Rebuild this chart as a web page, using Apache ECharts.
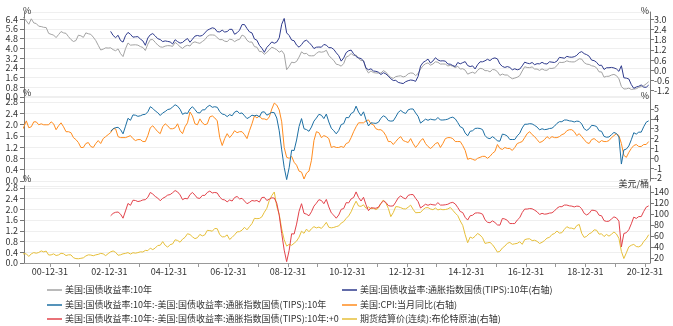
<!DOCTYPE html>
<html><head><meta charset="utf-8">
<script src="https://cdn.jsdelivr.net/npm/echarts@6/dist/echarts.min.js"></script>
<style>html,body{margin:0;padding:0;background:#fff}#c{width:673px;height:326px}</style>
</head><body><div id="c"></div>
<script>
// monthly data, first month 2000-01
const startYear = 2000;
const tenY = [
6.66,6.52,6.26,5.99,6.44,6.10,6.05,5.83,5.80,5.74,5.72,5.24,
5.16,5.10,4.89,5.14,5.39,5.28,5.24,4.97,4.73,4.57,4.65,5.09,
5.04,4.91,5.28,5.21,5.16,4.93,4.65,4.26,3.87,3.94,4.05,4.03,
4.05,3.90,3.81,3.96,3.57,3.33,3.98,4.45,4.27,4.29,4.30,4.27,
4.15,4.08,3.83,4.35,4.72,4.73,4.50,4.28,4.13,4.10,4.19,4.23,
4.22,4.17,4.50,4.34,4.14,4.00,4.18,4.26,4.20,4.46,4.54,4.47,
4.42,4.57,4.72,4.99,5.11,5.11,5.09,4.88,4.72,4.73,4.60,4.56,
4.76,4.72,4.56,4.69,4.75,5.10,5.00,4.67,4.52,4.53,4.15,4.10,
3.74,3.74,3.51,3.68,3.88,4.10,4.01,3.89,3.69,3.81,3.53,2.25,
2.52,2.87,2.82,2.93,3.29,3.72,3.56,3.59,3.40,3.39,3.40,3.59,
3.73,3.69,3.73,3.85,3.42,3.20,3.01,2.70,2.65,2.54,2.76,3.29,
3.39,3.58,3.41,3.46,3.17,3.00,3.00,2.30,1.98,2.15,2.01,1.98,
1.97,1.97,2.17,2.05,1.80,1.62,1.53,1.68,1.72,1.75,1.65,1.72,
1.91,1.98,1.96,1.76,1.93,2.30,2.58,2.74,2.81,2.62,2.72,2.90,
2.86,2.71,2.72,2.71,2.56,2.60,2.54,2.42,2.53,2.30,2.33,2.21,
1.88,1.98,2.04,1.94,2.20,2.36,2.32,2.17,2.17,2.07,2.26,2.24,
2.09,1.78,1.89,1.81,1.81,1.64,1.50,1.56,1.63,1.76,2.14,2.49,
2.43,2.42,2.48,2.30,2.30,2.19,2.32,2.21,2.20,2.36,2.35,2.40,
2.58,2.86,2.84,2.87,2.98,2.91,2.89,2.89,3.00,3.15,3.12,2.83,
2.71,2.68,2.57,2.53,2.40,2.07,2.06,1.63,1.70,1.71,1.81,1.86,
1.76,1.50,0.87,0.66,0.67,0.73,0.62,0.65,0.68,0.79,0.87,0.93,
1.08,1.26];
// TIPS and breakeven start 2003-01
const tipsStartYear = 2003;
const tips = [
2.29,2.05,1.92,2.06,1.75,1.66,2.04,2.23,2.12,1.95,1.97,1.98,
1.84,1.73,1.47,1.90,2.09,2.16,2.02,1.86,1.81,1.69,1.73,1.70,
1.67,1.55,1.80,1.69,1.60,1.64,1.77,1.87,1.65,1.83,2.01,2.05,
2.01,2.05,2.20,2.36,2.43,2.50,2.46,2.27,2.26,2.36,2.25,2.28,
2.41,2.41,2.12,2.21,2.36,2.69,2.69,2.46,2.26,2.20,1.84,1.77,
1.47,1.30,1.06,1.35,1.50,1.67,1.59,1.66,1.91,2.71,3.05,2.20,
2.05,1.78,1.74,1.48,1.36,1.51,1.71,1.77,1.64,1.48,1.28,1.36,
1.37,1.36,1.52,1.48,1.33,1.33,1.23,1.03,0.86,0.54,0.73,1.04,
1.15,1.19,0.97,0.81,0.73,0.69,0.55,0.13,0.03,0.09,-0.04,-0.06,
-0.11,-0.25,-0.14,-0.21,-0.34,-0.50,-0.60,-0.59,-0.71,-0.75,-0.78,-0.67,
-0.61,-0.57,-0.59,-0.65,-0.36,0.25,0.46,0.55,0.66,0.43,0.55,0.74,
0.61,0.55,0.56,0.54,0.37,0.36,0.28,0.22,0.46,0.38,0.45,0.51,
0.28,0.22,0.26,0.08,0.33,0.50,0.50,0.56,0.65,0.57,0.69,0.73,
0.67,0.37,0.23,0.17,0.22,0.17,0.03,0.09,0.03,0.07,0.26,0.48,
0.42,0.39,0.46,0.33,0.39,0.38,0.47,0.39,0.37,0.50,0.48,0.46,
0.54,0.76,0.74,0.71,0.82,0.78,0.77,0.80,0.88,1.04,1.10,0.98,
0.92,0.83,0.60,0.57,0.47,0.29,0.30,0.05,0.15,0.15,0.17,0.14,
0.08,-0.06,0.27,-0.44,-0.46,-0.51,-0.84,-1.06,-0.98,-0.94,-0.86,-0.99,
-1.00,-0.87];
const breakeven = [
1.76,1.85,1.89,1.90,1.82,1.67,1.94,2.22,2.15,2.34,2.33,2.29,
2.31,2.35,2.36,2.45,2.63,2.57,2.48,2.42,2.32,2.41,2.46,2.53,
2.55,2.62,2.70,2.65,2.54,2.36,2.41,2.39,2.55,2.63,2.53,2.42,
2.41,2.52,2.52,2.63,2.68,2.61,2.63,2.61,2.46,2.37,2.35,2.28,
2.35,2.31,2.44,2.48,2.39,2.41,2.31,2.21,2.26,2.33,2.31,2.33,
2.27,2.44,2.45,2.33,2.38,2.43,2.42,2.23,1.78,1.10,0.48,0.05,
0.47,1.09,1.08,1.45,1.93,2.21,1.85,1.82,1.76,1.91,2.12,2.23,
2.36,2.33,2.21,2.37,2.09,1.87,1.78,1.67,1.79,2.00,2.03,2.25,
2.24,2.39,2.44,2.65,2.44,2.31,2.45,2.17,1.95,2.06,2.05,2.04,
2.08,2.22,2.31,2.26,2.14,2.12,2.13,2.27,2.43,2.50,2.43,2.39,
2.52,2.55,2.55,2.41,2.29,2.05,2.12,2.19,2.15,2.19,2.17,2.16,
2.25,2.16,2.16,2.17,2.19,2.24,2.26,2.20,2.07,1.92,1.88,1.70,
1.60,1.76,1.78,1.86,1.87,1.86,1.82,1.61,1.52,1.50,1.57,1.51,
1.42,1.41,1.66,1.64,1.59,1.47,1.47,1.47,1.60,1.69,1.88,2.01,
2.01,2.03,2.02,1.97,1.91,1.81,1.85,1.82,1.83,1.86,1.87,1.94,
2.04,2.10,2.10,2.16,2.16,2.13,2.12,2.09,2.12,2.11,2.02,1.85,
1.79,1.85,1.97,1.96,1.93,1.78,1.76,1.58,1.55,1.56,1.64,1.72,
1.68,1.56,0.60,1.10,1.13,1.24,1.46,1.71,1.66,1.73,1.73,1.92,
2.08,2.13];
const cpi = [
2.7,3.2,3.8,3.1,3.2,3.7,3.7,3.4,3.5,3.4,3.4,3.4,
3.7,3.5,2.9,3.3,3.6,3.2,2.7,2.7,2.6,2.1,1.9,1.6,
1.1,1.1,1.5,1.6,1.2,1.1,1.5,1.8,1.5,2.0,2.2,2.4,
2.6,3.0,3.0,2.2,2.1,2.1,2.1,2.2,2.3,2.0,1.8,1.9,
1.9,1.7,1.7,2.3,3.1,3.3,3.0,2.7,2.5,3.2,3.5,3.3,
3.0,3.0,3.1,3.5,2.8,2.5,3.2,3.6,4.7,4.3,3.5,3.4,
4.0,3.6,3.4,3.5,4.2,4.3,4.1,3.8,2.1,1.3,2.0,2.5,
2.1,2.4,2.8,2.6,2.7,2.7,2.4,2.0,2.8,3.5,4.3,4.1,
4.3,4.0,4.0,3.9,4.2,5.0,5.6,5.4,4.9,3.7,1.1,0.1,
0.0,0.2,-0.4,-0.7,-1.3,-1.4,-2.1,-1.5,-1.3,-0.2,1.8,2.7,
2.6,2.1,2.3,2.2,2.0,1.1,1.2,1.1,1.1,1.2,1.1,1.5,
1.6,2.1,2.7,3.2,3.6,3.6,3.6,3.8,3.9,3.5,3.4,3.0,
2.9,2.9,2.7,2.3,1.7,1.7,1.4,1.7,2.0,2.2,1.8,1.7,
1.6,2.0,1.5,1.1,1.4,1.8,2.0,1.5,1.2,1.0,1.2,1.5,
1.6,1.1,1.5,2.0,2.1,2.1,2.0,1.7,1.7,1.7,1.3,0.8,
-0.1,0.0,-0.1,-0.2,0.0,0.1,0.2,0.2,0.0,0.2,0.5,0.7,
1.4,1.0,0.9,1.1,1.0,1.0,0.8,1.1,1.5,1.6,1.7,2.1,
2.5,2.7,2.4,2.2,1.9,1.6,1.7,1.9,2.2,2.0,2.2,2.1,
2.1,2.2,2.4,2.5,2.8,2.9,2.9,2.7,2.3,2.5,2.2,1.9,
1.6,1.5,1.9,2.0,1.8,1.6,1.8,1.7,1.7,1.8,2.1,2.3,
2.5,2.3,1.5,0.3,0.1,0.6,1.0,1.3,1.4,1.2,1.2,1.4,
1.4,1.7];
const brent = [
25.5,27.8,27.5,22.8,27.6,29.8,28.7,30.0,32.9,31.1,32.6,25.4,
25.6,27.5,24.5,25.6,28.5,27.8,24.4,25.8,25.7,20.5,18.9,18.6,
19.4,20.3,23.7,25.7,25.4,24.1,25.7,26.6,28.4,27.5,24.3,28.0,
31.2,32.8,30.3,25.0,25.8,27.6,28.4,29.8,27.1,29.6,28.8,29.8,
31.2,30.9,33.8,33.4,37.9,35.2,38.2,42.7,43.2,49.8,43.1,39.7,
44.3,45.6,53.1,51.9,48.7,54.3,57.5,64.1,62.7,58.5,55.2,56.9,
62.9,60.2,62.1,70.3,69.8,68.7,73.7,73.2,62.5,58.4,58.7,62.0,
53.7,57.6,62.1,67.5,67.9,70.6,75.8,71.2,77.0,82.5,92.1,91.5,
91.9,94.8,103.3,110.4,124.6,133.5,140.0,113.9,99.1,72.8,53.2,41.6,
44.9,43.1,46.8,50.8,57.9,68.6,64.9,72.5,67.7,73.2,77.0,74.7,
76.2,73.8,78.8,84.8,75.9,74.8,75.6,77.1,78.4,83.5,86.1,92.0,
96.5,104.0,114.6,123.3,114.5,113.9,116.7,110.2,112.8,109.6,110.5,107.9,
110.7,119.3,125.5,119.8,110.3,95.2,102.6,113.4,113.0,111.5,109.5,109.2,
112.3,116.1,108.5,102.3,102.6,102.9,107.9,111.3,111.6,109.1,107.8,110.8,
107.4,108.8,107.8,108.1,109.2,111.9,106.8,101.6,97.1,87.4,79.4,62.3,
47.8,58.1,55.9,59.5,64.6,61.7,56.8,46.5,47.6,48.4,44.3,38.0,
30.7,32.2,38.2,41.6,46.7,48.3,44.9,45.8,46.6,49.5,44.8,53.3,
54.6,54.9,51.6,52.3,50.3,46.4,48.5,51.7,56.2,57.5,62.7,64.4,
69.1,65.3,66.0,72.1,76.9,74.4,74.3,72.5,78.9,81.0,64.8,57.4,
59.4,64.0,66.1,71.2,70.5,63.3,64.0,59.0,62.8,59.7,63.2,67.3,
63.7,55.7,32.0,19.0,29.4,40.3,43.2,44.7,40.9,40.2,42.7,49.9,
54.8,62.3];

const names = ['美国:国债收益率:10年','美国:国债收益率:通胀指数国债(TIPS):10年(右轴)',
 '美国:国债收益率:10年:-美国:国债收益率:通胀指数国债(TIPS):10年','美国:CPI:当月同比(右轴)',
 '美国:国债收益率:10年:-美国:国债收益率:通胀指数国债(TIPS):10年:+0','期货结算价(连续):布伦特原油(右轴)'];
const colors = ['#a3a3a3','#2e3a8c','#1d6fa3','#ff8c1f','#e2434b','#e6bf3a'];
const xTickYears = [2001,2002,2003,2004,2005,2006,2007,2008,2009,2010,2011,2012,2013,2014,2015,2016,2017,2018,2019,2020,2021];
const xLabelYears = [2001,2003,2005,2007,2009,2011,2013,2015,2017,2019,2021];

function pairs(arr, y0) {
  return arr.map((v, i) => [y0 + (i + 0.5) / 12, v]);
}
const FONT = 'Noto Sans CJK SC';
const lab = {fontSize: 9, color: '#333', fontFamily: FONT};
const axLine = {show: true, lineStyle: {color: '#777', width: 1}};
const xMin = 2000.13, xMax = 2021.17;
function xAx(i, show) {
  return {type: 'value', gridIndex: i, min: xMin, max: xMax, show: show,
    axisLine: {show: true, lineStyle: {color: '#999'}},
    axisTick: {show: true, length: 4, lineStyle: {color: '#999'}, customValues: xTickYears},
    axisLabel: {...lab, margin: 4, customValues: xLabelYears,
      formatter: v => String((Math.round(v) - 1) % 100).padStart(2, '0') + '-12-31'},
    splitLine: {show: false}};
}
function leftAx(i, max, interval) {
  return {type: 'value', gridIndex: i, position: 'left', min: 0, max: max, interval: interval,
    name: '%', nameLocation: 'end', nameGap: 0,
    nameTextStyle: {fontSize: 9, color: '#333', fontFamily: FONT, align: 'left', verticalAlign: 'middle', padding: [0,0,0,-1]},
    axisLine: axLine, axisTick: {show: true, length: 4, lineStyle: {color: '#777'}},
    axisLabel: {...lab, margin: 6, showMaxLabel: false, formatter: v => v.toFixed(1)},
    splitLine: {show: true, lineStyle: {color: '#efefef', width: 1}}};
}
function rightAx(i, min, max, vals, name, dec) {
  return {type: 'value', gridIndex: i, position: 'right', min: min, max: max,
    name: name, nameLocation: 'end', nameGap: 0,
    nameTextStyle: {fontSize: 9, color: '#333', fontFamily: FONT, align: 'right', verticalAlign: 'middle', padding: [0,1,0,0]},
    axisLine: axLine, axisTick: {show: true, length: 4, lineStyle: {color: '#777'}, customValues: vals},
    axisLabel: {...lab, margin: 4, customValues: vals, formatter: v => v.toFixed(dec)},
    splitLine: {show: false}};
}
function line(name, data, xi, yi, color) {
  return {name: name, type: 'line', xAxisIndex: xi, yAxisIndex: yi, data: data,
    symbol: 'none', showSymbol: false, lineStyle: {width: 1, color: color}, itemStyle: {color: color},
    animation: false, clip: true};
}
function leg(name, left, top) {
  return {data: [name], left: left, top: top, orient: 'horizontal', icon: 'rect', itemWidth: 15, itemHeight: 1.5, itemGap: 0,
    textStyle: {fontSize: 9, color: '#333', fontFamily: FONT, lineHeight: 10, padding: [0,0,0,-2]}};
}
const chart = echarts.init(document.getElementById('c'));
chart.setOption({
  animation: false,
  color: colors,
  grid: [
    {left: 24, right: 23, top: 12, height: 85},
    {left: 24, right: 23, top: 96, height: 85},
    {left: 24, right: 23, top: 186, height: 77}
  ],
  xAxis: [xAx(0, false), xAx(1, false), xAx(2, true)],
  yAxis: [
    leftAx(0, 7.0, 0.8),
    rightAx(0, -1.57, 3.43, [-1.2,-0.6,0,0.6,1.2,1.8,2.4,3.0], '%', 1),
    leftAx(1, 3.01, 0.4),
    rightAx(1, -2.30, 6.32, [-2,-1,0,1,2,3,4,5], '%', 0),
    leftAx(2, 2.87, 0.4),
    rightAx(2, 10.9, 150.9, [20,40,60,80,100,120,140], '美元/桶', 0)
  ],
  legend: [
    leg(names[0], 42, 280), leg(names[2], 42, 295), leg(names[4], 42, 309),
    leg(names[1], 337, 280), leg(names[3], 337, 295), leg(names[5], 337, 309)
  ],
  series: [
    line(names[0], pairs(tenY, startYear), 0, 0, colors[0]),
    line(names[1], pairs(tips, tipsStartYear), 0, 1, colors[1]),
    line(names[3], pairs(cpi, startYear), 1, 3, colors[3]),
    line(names[2], pairs(breakeven, tipsStartYear), 1, 2, colors[2]),
    line(names[5], pairs(brent, startYear), 2, 5, colors[5]),
    line(names[4], pairs(breakeven, tipsStartYear), 2, 4, colors[4])
  ]
});
</script></body></html>
